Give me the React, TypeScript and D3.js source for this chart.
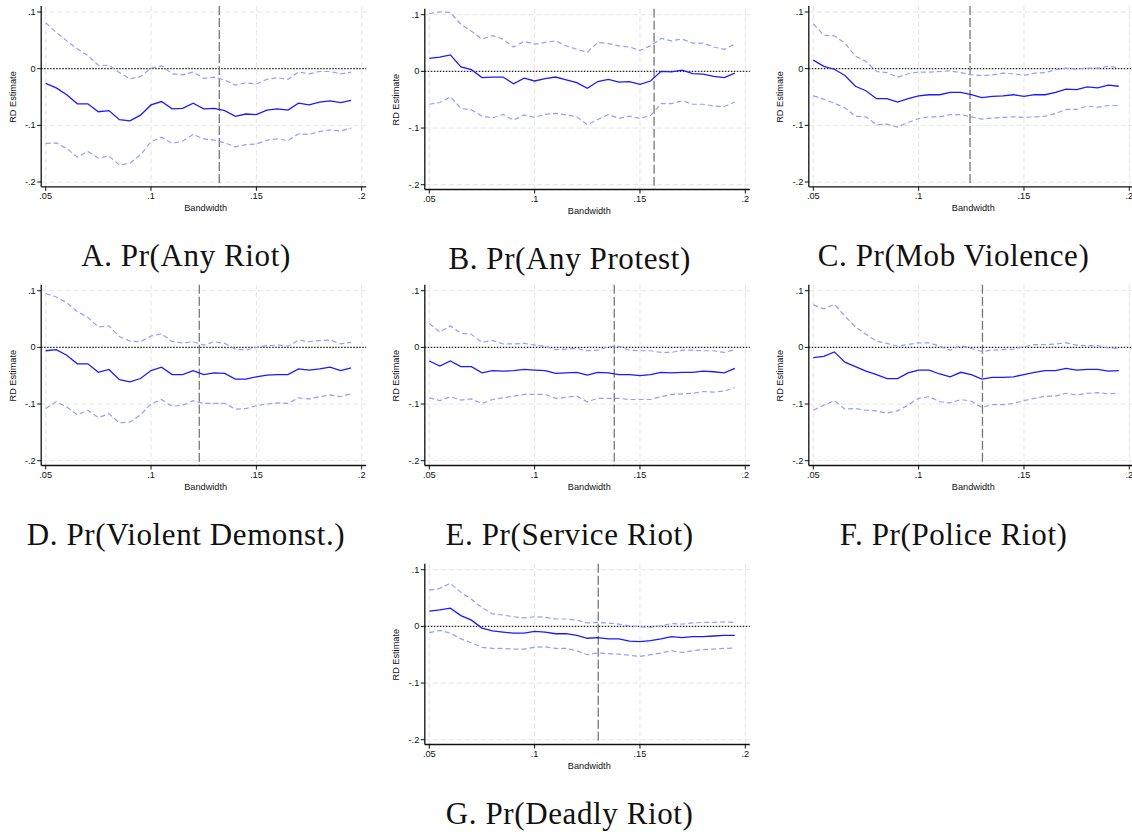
import React from "react";
import * as d3 from "d3";

const bandwidths: number[] = d3.range(30).map((i) => 0.05 + i * 0.005);
const xTicks = [0.05, 0.1, 0.15, 0.2];
const xTickLabels = [".05", ".1", ".15", ".2"];
const yTicks = [0.1, 0, -0.1, -0.2];
const yTickLabels = [".1", "0", "-.1", "-.2"];

const titles = [
  "A. Pr(Any Riot)",
  "B. Pr(Any Protest)",
  "C. Pr(Mob Violence)",
  "D. Pr(Violent Demonst.)",
  "E. Pr(Service Riot)",
  "F. Pr(Police Riot)",
  "G. Pr(Deadly Riot)",
];

const optimalBw = [0.1324, 0.1567, 0.1244, 0.1229, 0.1378, 0.1303, 0.1302];

const estA = [-0.026,-0.034,-0.046,-0.062,-0.062,-0.076,-0.074,-0.09,-0.092,-0.082,-0.064,-0.058,-0.071,-0.07,-0.061,-0.071,-0.07,-0.074,-0.084,-0.08,-0.081,-0.073,-0.071,-0.073,-0.061,-0.064,-0.059,-0.057,-0.06,-0.056];
const hiA = [0.081,0.064,0.049,0.035,0.023,0.006,0.006,-0.007,-0.018,-0.014,0.001,0.005,-0.009,-0.011,-0.006,-0.017,-0.015,-0.02,-0.029,-0.025,-0.027,-0.019,-0.016,-0.019,-0.006,-0.009,-0.005,-0.005,-0.009,-0.006];
const loA = [-0.132,-0.131,-0.141,-0.156,-0.146,-0.158,-0.154,-0.17,-0.167,-0.152,-0.129,-0.121,-0.132,-0.128,-0.116,-0.124,-0.126,-0.131,-0.138,-0.134,-0.133,-0.126,-0.124,-0.127,-0.115,-0.116,-0.111,-0.108,-0.11,-0.105];

const estB = [0.023,0.025,0.029,0.008,0.003,-0.011,-0.01,-0.01,-0.022,-0.012,-0.017,-0.013,-0.01,-0.015,-0.02,-0.03,-0.018,-0.014,-0.019,-0.018,-0.023,-0.017,0.0,-0.001,0.002,-0.004,-0.005,-0.009,-0.011,-0.003];
const hiB = [0.102,0.105,0.104,0.083,0.071,0.057,0.063,0.057,0.043,0.053,0.048,0.051,0.054,0.045,0.039,0.034,0.051,0.049,0.045,0.043,0.037,0.045,0.058,0.054,0.057,0.05,0.05,0.043,0.039,0.048];
const loB = [-0.058,-0.055,-0.045,-0.065,-0.068,-0.079,-0.082,-0.076,-0.086,-0.077,-0.081,-0.076,-0.074,-0.077,-0.08,-0.094,-0.085,-0.076,-0.083,-0.079,-0.083,-0.078,-0.057,-0.057,-0.052,-0.058,-0.058,-0.061,-0.062,-0.054];

const estC = [0.015,0.004,-0.001,-0.012,-0.031,-0.039,-0.053,-0.053,-0.059,-0.053,-0.048,-0.046,-0.046,-0.042,-0.042,-0.046,-0.051,-0.049,-0.048,-0.046,-0.049,-0.046,-0.046,-0.042,-0.036,-0.037,-0.032,-0.034,-0.029,-0.031];
const hiC = [0.079,0.059,0.058,0.045,0.022,0.013,-0.005,-0.007,-0.015,-0.009,-0.006,-0.006,-0.005,-0.004,-0.007,-0.011,-0.012,-0.011,-0.008,-0.009,-0.012,-0.008,-0.007,-0.002,0.001,-0.001,0.001,0.001,0.004,0.002];
const loC = [-0.048,-0.054,-0.061,-0.069,-0.084,-0.085,-0.099,-0.098,-0.103,-0.095,-0.088,-0.085,-0.085,-0.081,-0.081,-0.085,-0.089,-0.087,-0.086,-0.085,-0.086,-0.085,-0.084,-0.079,-0.072,-0.072,-0.066,-0.068,-0.065,-0.065];

const estD = [-0.006,-0.004,-0.014,-0.029,-0.029,-0.044,-0.039,-0.057,-0.061,-0.055,-0.041,-0.035,-0.048,-0.048,-0.041,-0.048,-0.045,-0.046,-0.056,-0.056,-0.052,-0.049,-0.048,-0.048,-0.038,-0.04,-0.038,-0.035,-0.041,-0.036];
const hiD = [0.095,0.089,0.079,0.063,0.053,0.036,0.038,0.019,0.011,0.01,0.02,0.024,0.01,0.008,0.01,0.004,0.01,0.007,-0.003,-0.005,0.0,0.003,0.004,0.002,0.013,0.01,0.012,0.013,0.006,0.009];
const loD = [-0.108,-0.096,-0.105,-0.119,-0.111,-0.124,-0.117,-0.133,-0.132,-0.119,-0.1,-0.092,-0.104,-0.102,-0.094,-0.099,-0.099,-0.099,-0.109,-0.108,-0.103,-0.1,-0.098,-0.099,-0.089,-0.091,-0.087,-0.084,-0.087,-0.082];

const estE = [-0.024,-0.033,-0.024,-0.034,-0.034,-0.045,-0.041,-0.042,-0.041,-0.039,-0.04,-0.041,-0.046,-0.045,-0.044,-0.049,-0.044,-0.045,-0.048,-0.048,-0.05,-0.048,-0.044,-0.045,-0.044,-0.044,-0.042,-0.043,-0.045,-0.037];
const hiE = [0.042,0.027,0.038,0.025,0.023,0.009,0.012,0.006,0.006,0.007,0.004,0.002,-0.004,-0.003,-0.002,-0.006,-0.005,0.001,0.002,-0.005,-0.006,-0.006,-0.009,-0.009,-0.005,-0.005,-0.006,-0.006,-0.009,-0.004];
const loE = [-0.089,-0.094,-0.087,-0.093,-0.091,-0.099,-0.092,-0.089,-0.086,-0.083,-0.083,-0.083,-0.09,-0.088,-0.086,-0.096,-0.09,-0.09,-0.09,-0.092,-0.092,-0.092,-0.087,-0.083,-0.082,-0.081,-0.078,-0.079,-0.077,-0.071];

const estF = [-0.018,-0.016,-0.008,-0.026,-0.034,-0.042,-0.048,-0.055,-0.055,-0.045,-0.04,-0.04,-0.047,-0.052,-0.044,-0.048,-0.056,-0.053,-0.053,-0.052,-0.048,-0.044,-0.041,-0.041,-0.037,-0.04,-0.039,-0.039,-0.042,-0.041];
const hiF = [0.075,0.068,0.076,0.055,0.036,0.023,0.011,0.007,0.002,0.005,0.008,0.008,0.002,-0.005,0.003,-0.002,-0.007,-0.005,-0.004,-0.003,0.001,0.005,0.005,0.006,0.008,0.004,0.003,0.003,-0.001,-0.002];
const loF = [-0.111,-0.102,-0.094,-0.109,-0.108,-0.111,-0.112,-0.116,-0.112,-0.102,-0.09,-0.087,-0.096,-0.098,-0.092,-0.095,-0.106,-0.101,-0.101,-0.099,-0.094,-0.09,-0.086,-0.086,-0.081,-0.084,-0.081,-0.08,-0.082,-0.081];

const estG = [0.027,0.029,0.032,0.019,0.011,-0.003,-0.008,-0.01,-0.012,-0.012,-0.009,-0.01,-0.013,-0.013,-0.016,-0.021,-0.02,-0.022,-0.022,-0.026,-0.027,-0.025,-0.022,-0.018,-0.02,-0.018,-0.018,-0.017,-0.016,-0.016];
const hiG = [0.064,0.067,0.076,0.06,0.048,0.033,0.022,0.02,0.017,0.015,0.017,0.016,0.013,0.013,0.011,0.006,0.007,0.006,0.004,0.001,-0.001,-0.002,0.001,0.005,0.004,0.006,0.007,0.007,0.008,0.007];
const loG = [-0.011,-0.007,-0.012,-0.022,-0.029,-0.037,-0.039,-0.039,-0.04,-0.04,-0.037,-0.036,-0.039,-0.039,-0.043,-0.05,-0.047,-0.048,-0.049,-0.051,-0.053,-0.05,-0.047,-0.043,-0.046,-0.043,-0.041,-0.04,-0.039,-0.038];

const estimates = [estA, estB, estC, estD, estE, estF, estG];
const uppers = [hiA, hiB, hiC, hiD, hiE, hiF, hiG];
const lowers = [loA, loB, loC, loD, loE, loF, loG];

// panel origins: pixel of x=.05 and y=.1
const origins: [number, number][] = [
  [45.7, 12],
  [429.3, 14.7],
  [813.3, 12],
  [45.7, 290.7],
  [429.3, 290.7],
  [813.3, 290.7],
  [429.3, 569.7],
];

const PW = 316;
const PH = 170;
const gridColor = "#e4e4e4";

function Panel({ idx }: { idx: number }) {
  const [x0, y0] = origins[idx];
  const x = d3.scaleLinear().domain([0.05, 0.2]).range([x0, x0 + PW]);
  const y = d3.scaleLinear().domain([-0.2, 0.1]).range([y0 + PH, y0]);
  const axX = x0 - 4.5;
  const axY = y0 + PH + 4.8;
  const top = y0 - 6;
  const right = x0 + PW + 4.5;
  const line = d3
    .line<number>()
    .x((_, i) => x(bandwidths[i]))
    .y((d) => y(d));
  const vx = x(optimalBw[idx]);
  return (
    <g>
      {xTicks.map((t) => (
        <line key={"gx" + t} x1={x(t)} x2={x(t)} y1={top} y2={axY} stroke={gridColor} strokeWidth={1} strokeDasharray="5,3" />
      ))}
      {yTicks.filter((t) => t !== 0).map((t) => (
        <line key={"gy" + t} x1={axX} x2={right} y1={y(t)} y2={y(t)} stroke={gridColor} strokeWidth={1} strokeDasharray="5,3" />
      ))}
      <line x1={axX} x2={right} y1={y(0)} y2={y(0)} stroke="#222" strokeWidth={1.2} strokeDasharray="1.5,1.5" />
      <line x1={vx} x2={vx} y1={top} y2={axY} stroke="#777" strokeWidth={1.3} strokeDasharray="9,3" />
      <path d={line(uppers[idx]) || ""} fill="none" stroke="#9a9aff" strokeWidth={1.2} strokeDasharray="5,3" />
      <path d={line(lowers[idx]) || ""} fill="none" stroke="#9a9aff" strokeWidth={1.2} strokeDasharray="5,3" />
      <path d={line(estimates[idx]) || ""} fill="none" stroke="#1a1aff" strokeWidth={1.3} />
      <line x1={axX} x2={axX} y1={top} y2={axY} stroke="#111" strokeWidth={1.3} />
      <line x1={axX} x2={right} y1={axY} y2={axY} stroke="#111" strokeWidth={1.3} />
      {yTicks.map((t, i) => (
        <g key={"yt" + t}>
          <line x1={axX - 4} x2={axX} y1={y(t)} y2={y(t)} stroke="#111" strokeWidth={1} />
          <text x={axX - 5.5} y={y(t)} dy="0.33em" textAnchor="end" fontSize={9.2} fontFamily="Liberation Sans, Arial, sans-serif" fill="#111">
            {yTickLabels[i]}
          </text>
        </g>
      ))}
      {xTicks.map((t, i) => (
        <g key={"xt" + t}>
          <line x1={x(t)} x2={x(t)} y1={axY} y2={axY + 4} stroke="#111" strokeWidth={1} />
          <text x={x(t)} y={axY + 12.5} textAnchor="middle" fontSize={9.2} fontFamily="Liberation Sans, Arial, sans-serif" fill="#111">
            {xTickLabels[i]}
          </text>
        </g>
      ))}
      <text x={x0 + PW / 2 + 2} y={y0 + 199} textAnchor="middle" fontSize={9.2} fontFamily="Liberation Sans, Arial, sans-serif" fill="#111">
        Bandwidth
      </text>
      <text
        transform={`translate(${x0 - 30},${y0 + 85}) rotate(-90)`}
        textAnchor="middle"
        fontSize={9.2}
        fontFamily="Liberation Sans, Arial, sans-serif"
        fill="#111"
      >
        RD Estimate
      </text>
      <text x={x0 + 140.3} y={y0 + 254} textAnchor="middle" fontSize={31} letterSpacing={0.6} fontFamily="Liberation Serif, Times New Roman, serif" fill="#111">
        {titles[idx]}
      </text>
    </g>
  );
}

export default function App() {
  return (
    <svg width={1132} height={832} style={{ position: "absolute", left: 0, top: 0, background: "#fff" }}>
      <rect width={1132} height={832} fill="#fff" />
      {titles.map((_, i) => (
        <Panel key={i} idx={i} />
      ))}
    </svg>
  );
}
